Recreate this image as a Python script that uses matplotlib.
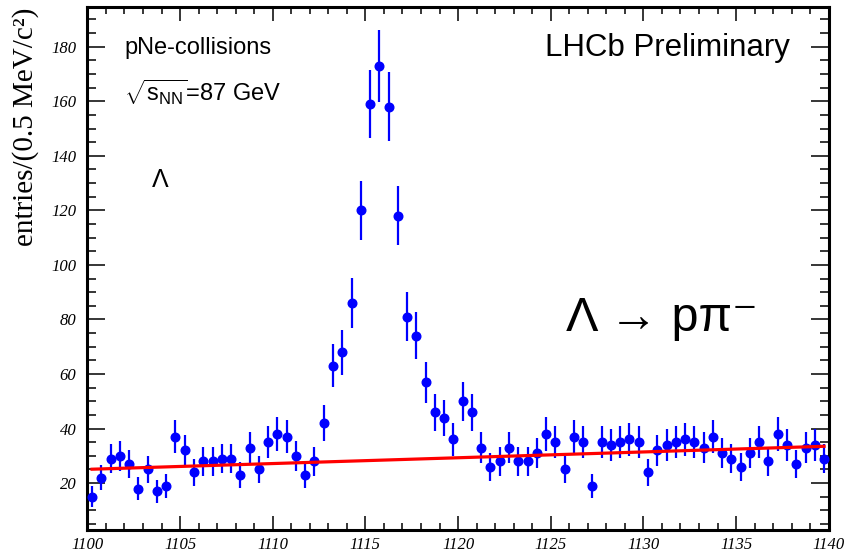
import numpy as np
import matplotlib
matplotlib.use("Agg")
import matplotlib.pyplot as plt
from matplotlib.ticker import MultipleLocator

# Invariant mass of p pi- candidates, 0.5 MeV/c^2 bins from 1100 to 1140
bin_centers = np.arange(1100.25, 1140.0, 0.5)
entries = [
    15, 22, 29, 30, 27, 18, 25, 17, 19, 37,
    32, 24, 28, 28, 29, 29, 23, 33, 25, 35,
    38, 37, 30, 23, 28, 42, 63, 68, 86, 120,
    159, 173, 158, 118, 81, 74, 57, 46, 44, 36,
    50, 46, 33, 26, 28, 33, 28, 28, 31, 38,
    35, 25, 37, 35, 19, 35, 34, 35, 36, 35,
    24, 32, 34, 35, 36, 35, 33, 37, 31, 29,
    26, 31, 35, 28, 38, 34, 27, 33, 34, 29,
]
# Linear background component
bkg_x = [1100.25, 1139.75]
bkg_y = [25.1, 33.5]

x_ticks = [1100, 1105, 1110, 1115, 1120, 1125, 1130, 1135, 1140]
y_ticks = [20, 40, 60, 80, 100, 120, 140, 160, 180]

serif = ["Liberation Serif", "DejaVu Serif"]
sans = ["Liberation Sans", "DejaVu Sans"]

plt.rcParams["mathtext.fontset"] = "custom"
plt.rcParams["mathtext.rm"] = "Liberation Sans"
plt.rcParams["mathtext.it"] = "Liberation Sans"

fig = plt.figure(figsize=(8.57, 5.55), dpi=100)
ax = fig.add_axes([0.102, 0.045, 0.865, 0.942])

y = np.array(entries, dtype=float)
ax.errorbar(bin_centers, y, yerr=np.sqrt(y), fmt="o", color="#0000ff",
            ms=6.2, elinewidth=1.6, capsize=0, zorder=3)
ax.plot(bkg_x, bkg_y, color="#ff0000", lw=2.3, zorder=4)

ax.set_xlim(1100, 1140)
ax.set_ylim(2.8, 194.5)
ax.set_xticks(x_ticks)
ax.set_yticks(y_ticks)
ax.xaxis.set_minor_locator(MultipleLocator(1))
ax.yaxis.set_minor_locator(MultipleLocator(5))
ax.tick_params(which="both", direction="in", top=True, right=True, width=1.1)
ax.tick_params(axis="x", which="major", length=10, pad=5)
ax.tick_params(axis="x", which="minor", length=5)
ax.tick_params(axis="y", which="major", length=13, pad=8)
ax.tick_params(axis="y", which="minor", length=6.5)
for lab in ax.get_xticklabels() + ax.get_yticklabels():
    lab.set_fontfamily(serif)
    lab.set_fontstyle("italic")
    lab.set_fontsize(12)
for sp in ax.spines.values():
    sp.set_linewidth(2.2)

ax.set_ylabel("entries/(0.5 MeV/c²)", fontfamily=serif, fontsize=21,
              loc="top", labelpad=9)

ax.text(0.05, 0.922, "pNe-collisions", transform=ax.transAxes,
        fontfamily=sans, fontsize=17, va="center", ha="left")
ax.text(0.05, 0.837, r"$\sqrt{\mathrm{s}_{\mathrm{NN}}}$=87 GeV", transform=ax.transAxes,
        fontfamily=sans, fontsize=17, va="center", ha="left")
ax.text(0.947, 0.922, "LHCb Preliminary", transform=ax.transAxes,
        fontfamily=sans, fontsize=22.5, va="center", ha="right")
ax.text(0.098, 0.669, "Λ", transform=ax.transAxes,
        fontfamily=sans, fontsize=18, va="center", ha="center")
ax.text(0.645, 0.405, "Λ → pπ⁻", transform=ax.transAxes,
        fontfamily=sans, fontsize=35, va="center", ha="left")

fig.savefig("out.png", dpi=100)
